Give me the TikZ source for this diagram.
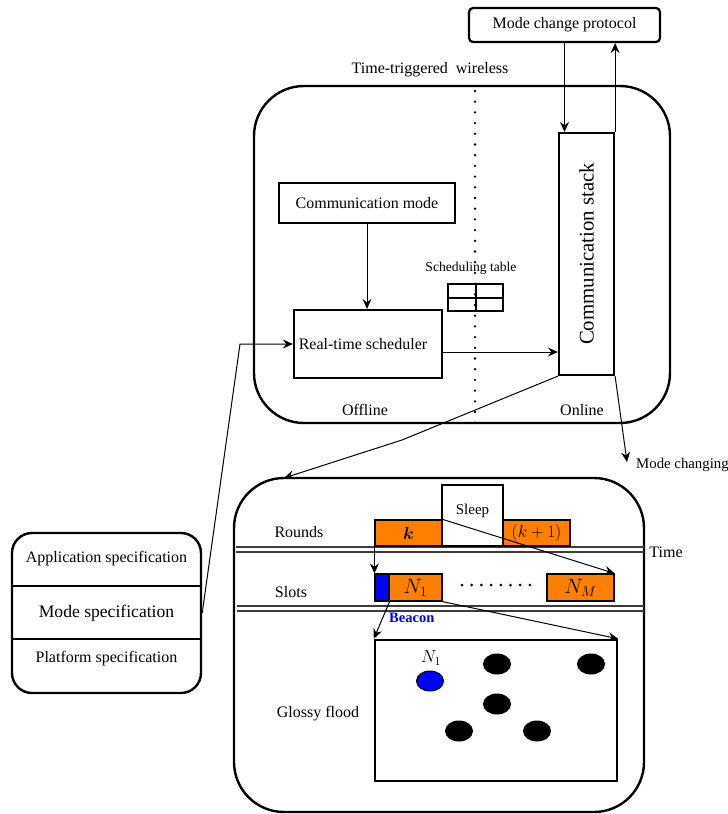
\documentclass[tikz,border=0pt]{standalone}
\usepackage{amsmath}
\usepackage{fontspec}
\setmainfont{Liberation Serif}
\usetikzlibrary{arrows.meta,calc,shapes.geometric}
\newcommand\fsz[1]{\fontsize{#1}{#1}\selectfont}
\definecolor{slotorange}{RGB}{255,128,0}
\definecolor{beaconblue}{RGB}{0,0,255}
\definecolor{rulegray}{RGB}{60,60,60}
\tikzset{
  box/.style={draw, line width=2.2pt, inner sep=0pt, align=center, font=\fsz{16}},
  bigbox/.style={draw, line width=2.4pt, rounded corners=50pt, inner sep=0pt},
  arr/.style={-{Stealth[length=10pt,width=9pt,inset=3.5pt]}, line width=1pt},
  lbl/.style={inner sep=0pt, font=\fsz{16}},
  orangebox/.style={draw, line width=1.2pt, fill=slotorange, inner sep=0pt},
  blob/.style={ellipse, fill=black, minimum width=28pt, minimum height=21pt, inner sep=0pt},
  timerule/.style={line width=1.6pt, draw=rulegray},
}
\begin{document}
\begin{tikzpicture}[x=1pt,y=-1pt]
\useasboundingbox (0,0) rectangle (728,814);

% ---------- upper part ----------
\node[box, rounded corners=4pt, minimum width=191pt, minimum height=34pt] (mcp) at (564.5,25) {Mode change protocol};
\node[lbl] (ttw) at (430,70) {Time-triggered\ \ wireless};
\node[bigbox, minimum width=416pt, minimum height=337pt] (upper) at (462,254.5) {};
\draw[line width=2.6pt, dash pattern=on 0pt off 10.7pt, line cap=round] (475,91) -- (475,425);

\node[box, minimum width=176pt, minimum height=40pt] (cmode) at (367,203) {Communication mode};
\node[box, minimum width=148pt, minimum height=68pt] (rts) at (368,344) {\hspace*{-10pt}Real-time scheduler};
\node[lbl, font=\fsz{13.6}] (stlabel) at (471,268) {Scheduling table};
\node[draw, line width=2pt, minimum width=55pt, minimum height=27pt, inner sep=0pt] (stable) at (475.5,297.5) {};
\draw[line width=2pt] (stable.west) -- (stable.east) (stable.north) -- (stable.south);
\node[box, minimum width=55pt, minimum height=242pt] (cstack) at (586.5,254) {\rotatebox{90}{\fsz{20.8}Communication stack}};

\node[lbl] (offline) at (365,410) {Offline};
\node[lbl] (online) at (582,410) {Online};

\draw[arr] (mcp.south) -- (mcp.south |- cstack.north);
\draw[arr] (cstack.north east) -- (cstack.north east |- mcp.south);
\draw[arr] (cmode.south) -- (cmode.south |- rts.north);
\coordinate (rtsout) at ($(rts.east)+(0,8)$);
\draw[arr] (rtsout) -- (cstack.west |- rtsout);

% ---------- lower part ----------
\node[bigbox, minimum width=410pt, minimum height=334pt] (lower) at (439,645) {};
\node[lbl] (rounds) at (299,532) {Rounds};
\node[lbl] (slots) at (291,592) {Slots};
\node[lbl] (glossy) at (318,714) {Glossy flood};
\node[lbl] (time) at (666,552) {Time};

\draw[timerule] (236,547) -- (644,547) (236,552) -- (644,552);
\draw[timerule] (237,606) -- (644,606) (237,611) -- (644,611);

\node[orangebox, minimum width=67pt, minimum height=26pt] (k) at (408.5,533) {\fsz{17}$\boldsymbol{k}$};
\node[draw, line width=2.4pt, fill=white, minimum width=61pt, minimum height=61pt, inner sep=0pt, font=\fsz{15}] (sleep) at (472.5,515.5) {\raisebox{12pt}{Sleep}};
\node[orangebox, minimum width=67pt, minimum height=26pt] (k1) at (536.5,533) {\fsz{18}$(k+1)$};

\node[draw, line width=1.2pt, fill=beaconblue, minimum width=14pt, minimum height=27pt, inner sep=0pt] (beacon) at (382,587.5) {};
\node[orangebox, minimum width=53pt, minimum height=27pt] (n1) at (415.5,587.5) {\raisebox{-3pt}{\fsz{20}$N_1$}};
\node[orangebox, minimum width=67pt, minimum height=27pt] (nm) at (580.5,587.5) {\raisebox{-3pt}{\fsz{20}$N_M$}};
\foreach \i in {0,...,7} \fill (462+\i*9.7,585) circle (1.5pt);

\node[draw, line width=2.4pt, minimum width=242pt, minimum height=141pt, inner sep=0pt] (flood) at (496,710.5) {};
\node[ellipse, draw, line width=1pt, fill=beaconblue, minimum width=27pt, minimum height=20pt, inner sep=0pt] (b1) at (430,681) {};
\node[inner sep=0pt, font=\fsz{18}] (n1lbl) at (431,658) {$N_1$};
\node[blob] (e1) at (497,664) {};
\node[blob] (e2) at (591,664) {};
\node[blob] (e3) at (497,704) {};
\node[blob] (e4) at (459,731) {};
\node[blob] (e5) at (537,731) {};

\draw[arr] (k.south west) -- (beacon.north west);
\draw[arr] (k.north east) -- (nm.north east);
\draw[arr] (beacon.south east) -- (flood.north west);
\node[inner sep=0pt, font=\fsz{14.5}\bfseries, text=beaconblue, anchor=west] (beaconlbl) at (389,618) {Beacon};
\draw[arr] (n1.south east) -- (flood.north east);

% ---------- left box ----------
\node[draw, line width=2.4pt, rounded corners=20pt, minimum width=189pt, minimum height=160pt, inner sep=0pt] (spec) at (106.5,613) {};
\draw[line width=2.4pt] (12,586) -- (201,586) (12,639) -- (201,639);
\node[lbl] (appspec) at (106.5,559) {Application specification};
\node[lbl, font=\fsz{17.6}] (modespec) at (106.5,613) {Mode specification};
\node[lbl] (platspec) at (106.5,659) {Platform specification};

% ---------- cross connectors ----------
\coordinate (bendA) at (240,344);
\draw[arr] (spec.east) -- (bendA) -- (rts.west);
\coordinate (bendB) at (402,440);
\coordinate (lowtl) at (284,478);
\draw[arr] (cstack.south west) -- (bendB) -- (lowtl);
\coordinate (lowtr) at (627,462);
\draw[arr] (cstack.south east) -- (lowtr);
\node[inner sep=0pt, font=\fsz{14.8}, anchor=west] (mchg) at (636,465) {Mode changing};
\end{tikzpicture}
\end{document}
